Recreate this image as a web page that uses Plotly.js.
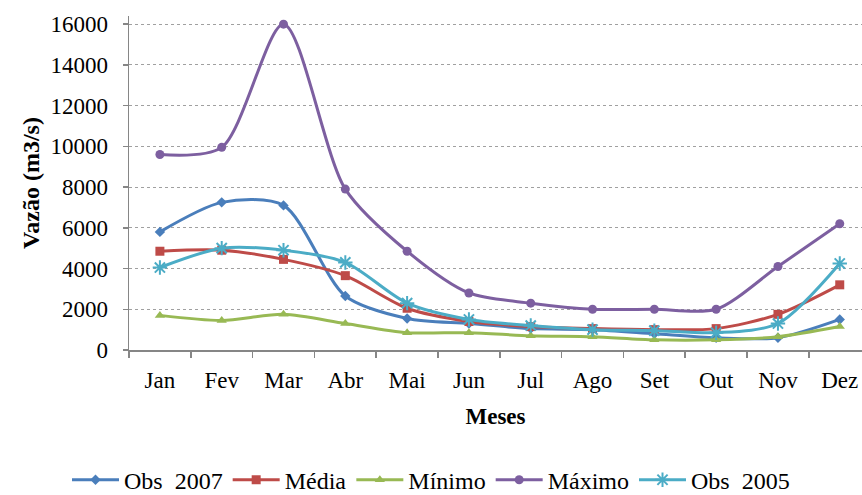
<!DOCTYPE html>
<html><head><meta charset="utf-8">
<script src="https://cdn.plot.ly/plotly-3.0.1.min.js"></script>
<style>body{margin:0}#c{width:862px;height:495px}</style>
</head><body><div id="c"></div>
<script>
const meses = ["Jan","Fev","Mar","Abr","Mai","Jun","Jul","Ago","Set","Out","Nov","Dez"];
const obs2007 = [5800,7250,7100,2650,1550,1300,1050,1000,800,600,600,1500];
const media   = [4850,4900,4450,3650,2050,1400,1150,1050,1000,1050,1750,3200];
const minimo  = [1700,1450,1750,1300,850,850,700,650,500,500,650,1150];
const maximo  = [9600,9950,16000,7900,4850,2800,2300,2000,2000,2000,4100,6200];
const obs2005 = [4050,5000,4900,4300,2300,1500,1200,1000,950,850,1300,4250];
const yTicks = [0,2000,4000,6000,8000,10000,12000,14000,16000];

const xi = meses.map((m,i)=>i);
function tr(name, y, color, symbol, size){
  return {
    type:'scatter', mode:'lines+markers', name:name, x:xi, y:y,
    line:{color:color, width:3, shape:'spline', smoothing:0.8},
    marker:{symbol:symbol, size:size, color:color, line:{color:color, width:symbol.indexOf('open')>=0?2:0}}
  };
}
const data = [
  tr('Obs  2007', obs2007, '#4A7EBB', 'diamond', 8),
  tr('Média', media, '#BE4B48', 'square', 9),
  tr('Mínimo', minimo, '#98B954', 'triangle-up', 9),
  tr('Máximo', maximo, '#7D5FA0', 'circle', 9),
  tr('Obs  2005', obs2005, '#4BACC6', 'asterisk-open', 12)
];
const FAM = 'Liberation Serif';
const minorTicks = xi.map(i => i - 0.5);
const layout = {
  width:862, height:495,
  margin:{l:129, r:0, t:16, b:145},
  paper_bgcolor:'#fff', plot_bgcolor:'#fff',
  font:{family:FAM, color:'#000', size:22},
  showlegend:true,
  legend:{orientation:'h', x:0.5, xref:'container', xanchor:'center', yref:'container', y:0.03, yanchor:'middle',
          font:{size:24, family:FAM}, itemwidth:47, tracegroupgap:0},
  xaxis:{
    automargin:false,
    range:[-0.5, 11.36], tickmode:'array', tickvals:xi, ticktext:meses,
    ticks:'', showgrid:false, zeroline:false, ticklabeloverflow:'allow',
    showline:true, linecolor:'#868686', linewidth:1.5,
    minor:{tickmode:'array', tickvals:minorTicks, ticks:'outside', ticklen:6, tickcolor:'#868686', tickwidth:1.5, showgrid:false},
    tickfont:{size:23, family:FAM}, ticklabelstandoff:9,
    title:{text:'<b>Meses</b>', font:{size:23, family:FAM}, standoff:16}
  },
  yaxis:{
    automargin:false,
    range:[0,16400], tickmode:'array', tickvals:yTicks,
    ticktext:yTicks.map(String),
    ticks:'outside', ticklen:5, tickcolor:'#868686', tickwidth:1.5,
    showgrid:true, gridcolor:'#a0a0a0', griddash:'dot', gridwidth:1,
    zeroline:false, showline:true, linecolor:'#868686', linewidth:1.5,
    tickfont:{size:23, family:FAM}, ticklabelstandoff:10,
    title:{text:'<b>Vazão (m3/s)</b>', font:{size:24, family:FAM}, standoff:4}
  }
};
Plotly.newPlot('c', data, layout, {staticPlot:true});
</script></body></html>
